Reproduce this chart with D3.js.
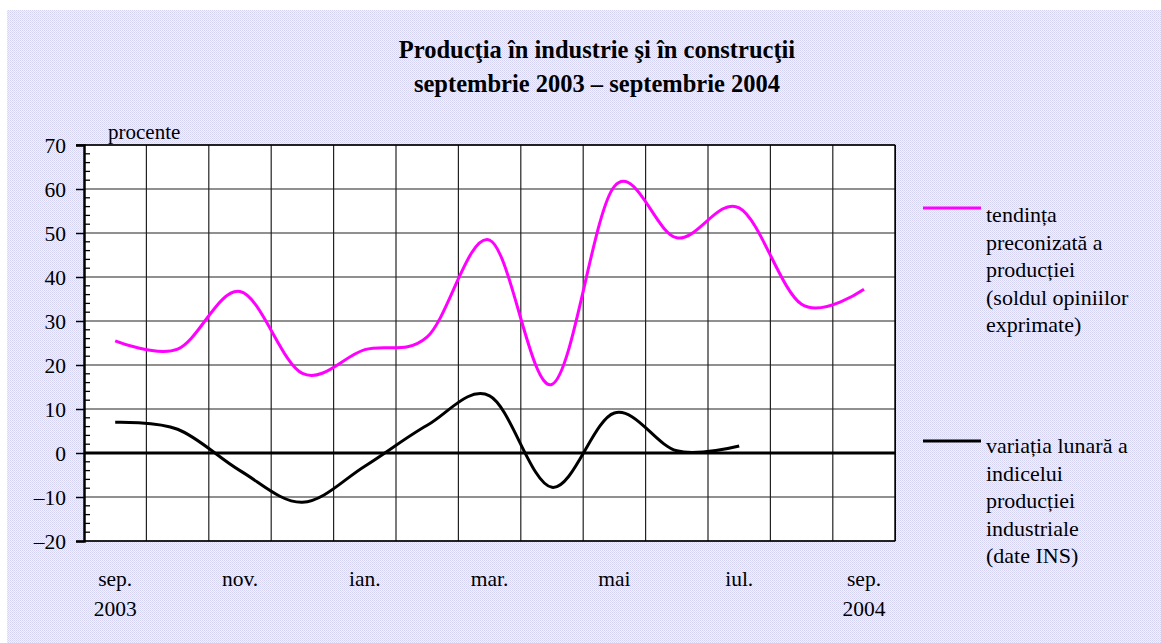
<!DOCTYPE html>
<html><head><meta charset="utf-8">
<script src="https://cdn.jsdelivr.net/npm/d3@7"></script>
<style>html,body{margin:0;padding:0;background:#fff;}svg{display:block;}</style>
</head><body>
<script>
const months = ["sep.","oct.","nov.","dec.","ian.","feb.","mar.","apr.","mai","iun.","iul.","aug.","sep."];
const years = ["2003","","","","","","","","","","","","2004"];
const tendinta = [25.5, 23.6, 36.7, 18.1, 23.5, 26.4, 48.4, 15.6, 60.6, 48.9, 55.7, 33.8, 37.2];
const variatia = [7.0, 5.4, -4.0, -11.2, -3.0, 6.3, 13.0, -7.8, 9.1, 0.5, 1.6];
const yTicks = [70, 60, 50, 40, 30, 20, 10, 0, -10, -20];
const yTickLabels = ["70","60","50","40","30","20","10","0","–10","–20"];
const titleLines = ["Producţia în industrie şi în construcţii", "septembrie 2003 – septembrie 2004"];
const legend1 = ["tendința", "preconizată a", "producției", "(soldul opiniilor", "exprimate)"];
const legend2 = ["variația lunară a", "indicelui", "producției", "industriale", "(date INS)"];

const W = 1161, H = 643;
const svg = d3.select("body").append("svg").attr("width", W).attr("height", H);
const defs = svg.append("defs");
const pat = defs.append("pattern").attr("id","dots").attr("width",2).attr("height",2).attr("patternUnits","userSpaceOnUse");
pat.append("rect").attr("width",2).attr("height",2).attr("fill","#f2f2fc");
pat.append("rect").attr("x",0).attr("y",0).attr("width",1).attr("height",1).attr("fill","#d4d4f2");
pat.append("rect").attr("x",1).attr("y",1).attr("width",1).attr("height",1).attr("fill","#dcdcf6");
svg.append("rect").attr("x",7).attr("y",10).attr("width",W-7).attr("height",H-10).attr("fill","url(#dots)");

const L = 84, R = 895.2, T = 145, B = 541;
const x = d3.scaleBand().domain(d3.range(months.length)).range([L, R]).padding(0);
const xc = i => x(i) + x.bandwidth()/2;
const y = d3.scaleLinear().domain([-20, 70]).range([B, T]);
const font = "'Liberation Serif','Times New Roman',serif";

svg.append("rect").attr("x",L).attr("y",T).attr("width",R-L).attr("height",B-T).attr("fill","#fff");

const g = svg.append("g");
g.selectAll("line.v").data(d3.range(1, months.length + 1)).join("line")
  .attr("x1", i => i < months.length ? x(i) : R).attr("x2", i => i < months.length ? x(i) : R)
  .attr("y1", T).attr("y2", B).attr("stroke","#222").attr("stroke-width",1.2);
g.selectAll("line.h").data(yTicks.filter(d => d !== 0)).join("line")
  .attr("x1", L).attr("x2", R).attr("y1", d => y(d)).attr("y2", d => y(d))
  .attr("stroke","#222").attr("stroke-width",1.2);

const yAxis = d3.axisLeft(y).tickValues(yTicks).tickSize(8).tickPadding(10)
  .tickFormat(d => yTickLabels[yTicks.indexOf(d)]);
const ya = svg.append("g").attr("transform", `translate(${L},0)`).call(yAxis);
ya.select(".domain").attr("stroke","#000").attr("stroke-width",2.5);
ya.selectAll(".tick line").attr("stroke","#000").attr("stroke-width",1.5);
ya.selectAll(".tick text").attr("font-family",font).attr("font-size",21.5).attr("fill","#000").attr("dy","0.34em");
const minor = d3.range(-20, 71, 2).filter(d => d % 10 !== 0);
svg.append("g").selectAll("line").data(minor).join("line")
  .attr("x1", L).attr("x2", L + 6).attr("y1", d => y(d)).attr("y2", d => y(d))
  .attr("stroke","#000").attr("stroke-width",1.3);

svg.append("line").attr("x1", L).attr("x2", R).attr("y1", y(0)).attr("y2", y(0))
  .attr("stroke","#000").attr("stroke-width",3);

const xAxis = d3.axisBottom(x).tickValues(d3.range(0, months.length, 2)).tickSize(0).tickPadding(0)
  .tickFormat(i => months[i]);
const xa = svg.append("g").attr("transform", `translate(0,${B})`).call(xAxis);
xa.select(".domain").remove();
xa.selectAll(".tick text").attr("font-family",font).attr("font-size",21.5).attr("fill","#000").attr("dy",null).attr("y",45);
svg.append("g").selectAll("text").data(years.map((t,i)=>({t,i})).filter(d=>d.t)).join("text")
  .attr("x", d => xc(d.i)).attr("y", 616).attr("text-anchor","middle")
  .attr("font-family",font).attr("font-size",21.5).text(d => d.t);

const line = d3.line().x((d,i) => xc(i)).y(d => y(d)).curve(d3.curveCatmullRom.alpha(0));
svg.append("path").attr("d", line(tendinta)).attr("fill","none").attr("stroke","#ff00ff").attr("stroke-width",3);
svg.append("path").attr("d", line(variatia)).attr("fill","none").attr("stroke","#000").attr("stroke-width",3);

svg.append("line").attr("x1",L-8).attr("x2",R).attr("y1",T).attr("y2",T).attr("stroke","#000").attr("stroke-width",1.5);
svg.append("line").attr("x1",R).attr("x2",R).attr("y1",T).attr("y2",B).attr("stroke","#000").attr("stroke-width",1.5);
svg.append("line").attr("x1",L).attr("x2",R).attr("y1",B).attr("y2",B).attr("stroke","#000").attr("stroke-width",1.5);

svg.append("text").attr("x",108).attr("y",139).attr("font-family",font).attr("font-size",21).text("procente");

svg.append("g").selectAll("text").data(titleLines).join("text")
  .attr("x", 597).attr("y", (d,i) => 58 + i*34).attr("text-anchor","middle")
  .attr("font-family",font).attr("font-size",24.5).attr("font-weight","bold").text(d => d);

function legend(yLine, lines, color, yText) {
  svg.append("line").attr("x1",923).attr("x2",981).attr("y1",yLine).attr("y2",yLine)
    .attr("stroke",color).attr("stroke-width",3);
  svg.append("g").selectAll("text").data(lines).join("text")
    .attr("x", 986).attr("y", (d,i) => yText + i*27.5)
    .attr("font-family",font).attr("font-size",22).text(d => d);
}
legend(208, legend1, "#ff00ff", 222);
legend(441, legend2, "#000", 453);
</script>
</body></html>
